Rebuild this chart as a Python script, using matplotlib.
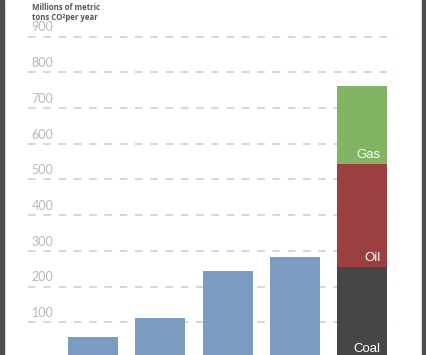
import matplotlib
matplotlib.use("Agg")
import matplotlib.pyplot as plt
from matplotlib.patches import Rectangle

# values (millions of metric tons CO2 per year)
single_values = [60, 111, 244, 284]
stack_labels = ["Coal", "Oil", "Gas"]
stack_values = [255, 288, 219]
stack_colors = ["#464646", "#9c3f40", "#82b463"]
bar_color = "#7a9cc0"
ticks = [100, 200, 300, 400, 500, 600, 700, 800, 900]

fig = plt.figure(figsize=(4.26, 3.55), dpi=100)
ax = fig.add_axes([0, 0, 1, 1])

# pixel -> data mapping: bar pitch 67.3 px, 0.357 px per unit
ax.set_xlim(-1.382, 4.948)
ax.set_ylim(8.4, 1002.8)
ax.axis("off")

for t in ticks:
    ax.plot([-0.966, 4.487], [t, t], color="#cccccc", lw=1.1,
            linestyle=(0, (5, 5)), zorder=1)
    ax.text(-0.91, t + 9, str(t), color="#b8b8b8", fontsize=9,
            family="Lato", ha="left", va="bottom", zorder=2)

w = 0.743
for i, v in enumerate(single_values):
    ax.bar(i, v, width=w, color=bar_color, zorder=3)

bottom = 0
x5 = len(single_values)
for lab, v, c in zip(stack_labels, stack_values, stack_colors):
    ax.bar(x5, v, width=w, bottom=bottom, color=c, zorder=3)
    ax.text(x5 + w / 2 - 0.1, bottom + 8, lab, color="white", fontsize=9.5,
            family="Liberation Sans", ha="right", va="bottom", zorder=4)
    bottom += v

fig.text(32 / 426, 1 - 3 / 355, "Millions of metric\ntons CO²per year",
         color="#555555", fontsize=5.6, fontweight="bold", family="Open Sans",
         ha="left", va="top", linespacing=1.2)

# dark frame edges on left and right
fig.patches.append(Rectangle((0, 0), 3.5 / 426, 1, transform=fig.transFigure,
                             color="#4d4d4d", zorder=10))
fig.patches.append(Rectangle((422 / 426, 0), 4 / 426, 1, transform=fig.transFigure,
                             color="#4d4d4d", zorder=10))

fig.savefig("out.png", dpi=100)
